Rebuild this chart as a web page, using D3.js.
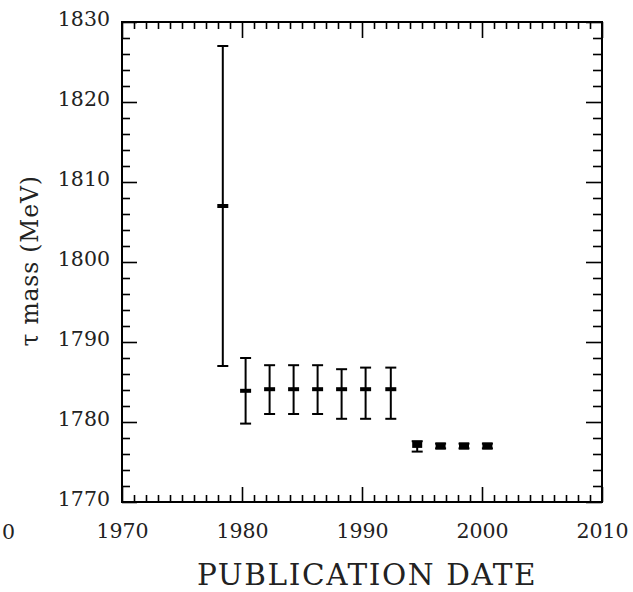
<!DOCTYPE html>
<html>
<head>
<meta charset="utf-8">
<script src="https://cdn.jsdelivr.net/npm/d3@7"></script>
<style>
  html, body { margin: 0; padding: 0; background: #fff; }
  svg { display: block; }
  text { font-family: "DejaVu Serif", serif; fill: #222; }
</style>
</head>
<body>
<svg id="chart" width="633" height="592"></svg>
<script>
// Tau lepton mass measurements by publication date
const pubYear   = [1978.4, 1980.3, 1982.3, 1984.3, 1986.3, 1988.3, 1990.3, 1992.4, 1994.6, 1996.55, 1998.5, 2000.45];
const tauMass   = [1807.0, 1783.9, 1784.1, 1784.1, 1784.1, 1784.1, 1784.1, 1784.1, 1777.2, 1777.0, 1777.0, 1777.0];
const errPlus   = [20.0, 4.1, 3.0, 3.0, 3.0, 2.5, 2.7, 2.7, 0.4, 0.3, 0.3, 0.3];
const errMinus  = [20.0, 4.1, 3.1, 3.1, 3.1, 3.7, 3.7, 3.7, 0.9, 0.3, 0.3, 0.3];
const markStyle = ["dash", "dash", "dash", "dash", "dash", "dash", "dash", "dash", "square", "square", "square", "square"];

const xTickValues = [1970, 1980, 1990, 2000, 2010];
const yTickValues = [1770, 1780, 1790, 1800, 1810, 1820, 1830];
const xTitle = "PUBLICATION DATE";
const yTitle = "τ mass (MeV)";

const svg = d3.select("#chart");
const L = 122, R = 602, T = 22, B = 502;

const x = d3.scaleLinear().domain([1970, 2010]).range([L, R]);
const y = d3.scaleLinear().domain([1770, 1830]).range([B, T]);

const xMinor = d3.range(1970, 2010.5, 1).filter(v => v % 10 !== 0);
const yMinor = d3.range(1770, 1830.5, 2).filter(v => v % 10 !== 0);

function styleAxis(g) {
  g.select(".domain").remove();
  g.selectAll(".tick line").attr("stroke", "#000").attr("stroke-width", 1.6);
}

// bottom axis with labels
svg.append("g").attr("transform", `translate(0,${B})`)
  .call(d3.axisBottom(x).tickValues(xTickValues).tickFormat(d3.format("d")).tickSize(-15).tickPadding(21))
  .call(styleAxis)
  .call(g => g.selectAll("text").attr("font-size", 20.5).attr("font-family", "DejaVu Serif").attr("fill", "#222"));
svg.append("g").attr("transform", `translate(0,${B})`)
  .call(d3.axisBottom(x).tickValues(xMinor).tickFormat("").tickSize(-7))
  .call(styleAxis);
// top axis
svg.append("g").attr("transform", `translate(0,${T})`)
  .call(d3.axisTop(x).tickValues(xTickValues).tickFormat("").tickSize(-16))
  .call(styleAxis);
svg.append("g").attr("transform", `translate(0,${T})`)
  .call(d3.axisTop(x).tickValues(xMinor).tickFormat("").tickSize(-7))
  .call(styleAxis);

// left axis with labels
svg.append("g").attr("transform", `translate(${L},0)`)
  .call(d3.axisLeft(y).tickValues(yTickValues).tickFormat(d3.format("d")).tickSize(-15).tickPadding(12))
  .call(styleAxis)
  .call(g => g.selectAll("text").attr("font-size", 20.5).attr("font-family", "DejaVu Serif").attr("fill", "#222").attr("dy", "0.18em"));
svg.append("g").attr("transform", `translate(${L},0)`)
  .call(d3.axisLeft(y).tickValues(yMinor).tickFormat("").tickSize(-8))
  .call(styleAxis);
// right axis
svg.append("g").attr("transform", `translate(${R},0)`)
  .call(d3.axisRight(y).tickValues(yTickValues).tickFormat("").tickSize(-16))
  .call(styleAxis);
svg.append("g").attr("transform", `translate(${R},0)`)
  .call(d3.axisRight(y).tickValues(yMinor).tickFormat("").tickSize(-9))
  .call(styleAxis);

// plot frame
svg.append("rect")
  .attr("x", L).attr("y", T).attr("width", R - L).attr("height", B - T)
  .attr("fill", "none").attr("stroke", "#000").attr("stroke-width", 2);

// partial tick label at the far left edge
svg.append("text").attr("x", 8.5).attr("y", B + 22)
  .attr("dy", "0.71em").attr("text-anchor", "middle").attr("font-size", 20.5).text("0");

// axis titles
svg.append("text")
  .attr("x", (L + R) / 2 + 5).attr("y", 585)
  .attr("text-anchor", "middle").attr("font-size", 29.5)
  .attr("letter-spacing", 1.6)
  .text(xTitle);
svg.append("text")
  .attr("transform", `translate(38,${261}) rotate(-90)`)
  .attr("text-anchor", "middle").attr("font-size", 23.5)
  .attr("letter-spacing", 0.8)
  .text(yTitle);

// measurements
const pts = pubYear.map((yr, i) => ({
  yr, m: tauMass[i], up: errPlus[i], dn: errMinus[i], style: markStyle[i]
}));

const g = svg.append("g");
const capW = 11;
pts.forEach(p => {
  const cx = x(p.yr);
  const yTop = y(p.m + p.up), yBot = y(p.m - p.dn), yc = y(p.m);
  g.append("line").attr("x1", cx).attr("x2", cx).attr("y1", yTop).attr("y2", yBot)
    .attr("stroke", "#000").attr("stroke-width", 2);
  [yTop, yBot].forEach(yy => {
    g.append("line").attr("x1", cx - capW / 2).attr("x2", cx + capW / 2)
      .attr("y1", yy).attr("y2", yy).attr("stroke", "#000").attr("stroke-width", 2);
  });
  if (p.style === "dash") {
    g.append("rect").attr("x", cx - 5.5).attr("y", yc - 2).attr("width", 11).attr("height", 4).attr("fill", "#000");
  } else {
    g.append("rect").attr("x", cx - 5).attr("y", yc - 3.5).attr("width", 10).attr("height", 7).attr("fill", "#000");
  }
});
</script>
</body>
</html>
